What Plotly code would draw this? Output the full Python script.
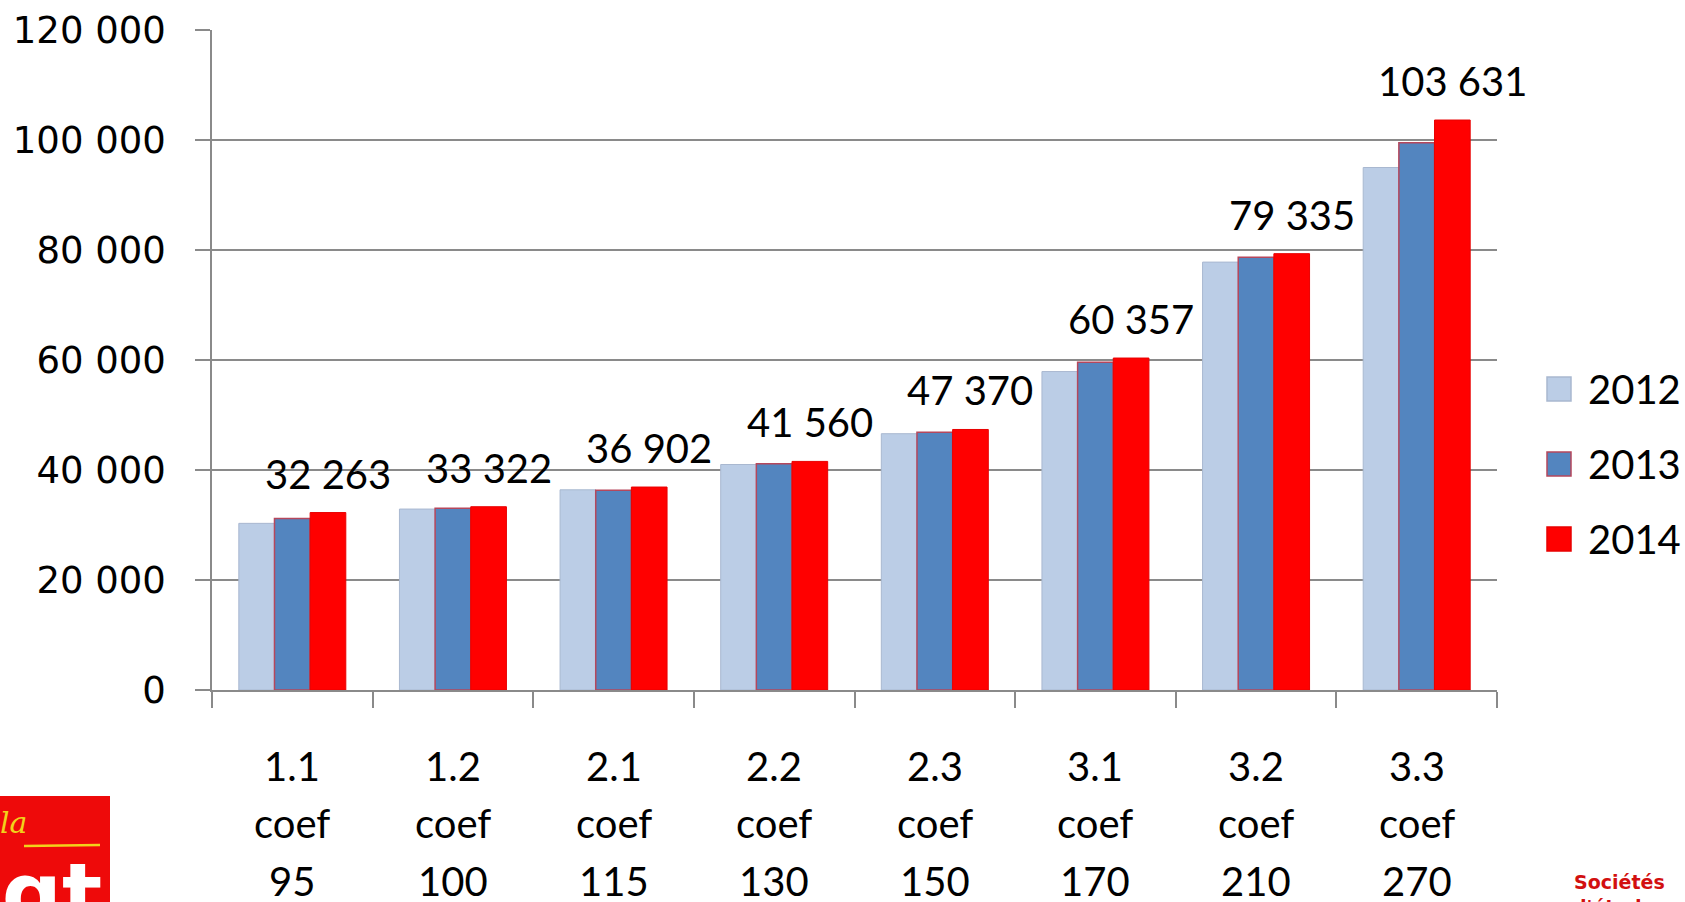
import plotly.graph_objects as go

# ---------------- data ----------------
grades = ["1.1", "1.2", "2.1", "2.2", "2.3", "3.1", "3.2", "3.3"]
coefs = ["95", "100", "115", "130", "150", "170", "210", "270"]
years = ["2012", "2013", "2014"]
v2012 = [30300, 32900, 36400, 41000, 46600, 57900, 77800, 95000]
v2013 = [31200, 33050, 36300, 41150, 46850, 59600, 78700, 99500]
v2014 = [32263, 33322, 36902, 41560, 47370, 60357, 79335, 103631]
y_ticks = [0, 20000, 40000, 60000, 80000, 100000, 120000]

series = [v2012, v2013, v2014]
fills = ["#BBCDE6", "#5385BF", "#FF0000"]
lines = ["#A9B8D0", "#B5475C", "#E80000"]
line_w = [1, 1.5, 1]

# ---------------- geometry helpers (pixel -> paper) ----------------
W, H = 1685, 902
L, R, T, B = 212, 1497, 30, 690


def px_x(px):
    return (px - L) / (R - L)


def px_y(py):
    return (B - py) / (B - T)


LABEL_FONT = "Lato"
AXIS_FONT = "DejaVu Sans"
GREY = "#8A8A8A"

fig = go.Figure()
for name, vals, fc, lc, lw in zip(years, series, fills, lines, line_w):
    fig.add_trace(go.Bar(
        x=grades, y=vals, name=name,
        marker=dict(color=fc, line=dict(color=lc, width=lw)),
        showlegend=False,
        hovertemplate="%{x} " + name + ": %{y:,}<extra></extra>",
    ))

annotations = []
shapes = []

# value labels above the 2014 bars (x given as category index)
bargap = 0.334
cat_w = (R - L) / len(grades)
bar_w = cat_w * (1 - bargap) / 3
for i, v in enumerate(v2014):
    annotations.append(dict(
        x=i, y=v, xref="x", yref="y", xshift=bar_w, yshift=39,
        text=f"{v:,}".replace(",", " "), showarrow=False,
        xanchor="center", yanchor="middle",
        font=dict(family=LABEL_FONT, size=40, color="#000000"),
    ))

# three-line category labels
for i, (g, c) in enumerate(zip(grades, coefs)):
    for txt, dy in zip([g, "coef", c], [766, 823, 881]):
        annotations.append(dict(
            x=i, y=px_y(dy), xref="x", yref="paper", text=txt,
            showarrow=False, xanchor="center", yanchor="middle",
            font=dict(family=LABEL_FONT, size=40, color="#000000"),
        ))

# legend (drawn manually so the swatches match the reference size)
for name, fc, lc, lw, cy in zip(years, fills, lines, line_w, [389, 464, 539]):
    shapes.append(dict(
        type="rect", xref="paper", yref="paper",
        x0=px_x(1547), x1=px_x(1571), y0=px_y(cy + 12), y1=px_y(cy - 12),
        fillcolor=fc, line=dict(color=lc, width=max(lw, 1.5)),
    ))
    annotations.append(dict(
        x=px_x(1586), y=px_y(cy), xref="paper", yref="paper", text=name,
        showarrow=False, xanchor="left", yanchor="middle",
        font=dict(family=LABEL_FONT, size=40, color="#000000"),
    ))

# logo (bottom left)
shapes.append(dict(
    type="rect", xref="paper", yref="paper",
    x0=px_x(-5), x1=px_x(110), y0=px_y(910), y1=px_y(796),
    fillcolor="#EE0A0A", line=dict(width=0), layer="above",
))
shapes.append(dict(
    type="line", xref="paper", yref="paper",
    x0=px_x(24), x1=px_x(100), y0=px_y(846), y1=px_y(845),
    line=dict(color="#F2D21B", width=2.5), layer="above",
))
annotations.append(dict(
    x=px_x(104), y=px_y(843), xref="paper", yref="paper",
    text="<b>cgt</b>", showarrow=False, xanchor="right", yanchor="top",
    font=dict(family="DejaVu Sans", size=84, color="#FFFFFF"),
))
annotations.append(dict(
    x=px_x(-2), y=px_y(822), xref="paper", yref="paper",
    text="<i>la</i>", showarrow=False, xanchor="left", yanchor="middle",
    font=dict(family="DejaVu Serif", size=30, color="#F2D21B"),
))

# bottom-right caption
annotations.append(dict(
    x=px_x(1619), y=px_y(869), xref="paper", yref="paper",
    text="<b>Sociétés<br>d'études</b>", showarrow=False,
    xanchor="center", yanchor="top", align="center",
    font=dict(family="DejaVu Sans", size=19, color="#D21010"),
))

fig.update_layout(
    width=W, height=H,
    margin=dict(l=L, r=W - R, t=T, b=H - B, autoexpand=False),
    paper_bgcolor="#FFFFFF", plot_bgcolor="#FFFFFF",
    barmode="group", bargap=bargap, bargroupgap=0,
    separators=", ",
    annotations=annotations, shapes=shapes,
    showlegend=False,
)
fig.update_xaxes(
    type="category", categoryorder="array", categoryarray=grades,
    range=[-0.5, len(grades) - 0.5], autorange=False,
    showticklabels=False, showgrid=False,
    showline=True, linecolor=GREY, linewidth=1.5,
    ticks="outside", tickson="boundaries", ticklen=16, tickcolor=GREY, tickwidth=1.5,
)
fig.update_yaxes(
    range=[0, 120000], autorange=False, tickvals=y_ticks, tickformat=",d",
    showgrid=True, gridcolor=GREY, gridwidth=1.5,
    showline=True, linecolor=GREY, linewidth=1.5,
    ticks="outside", ticklen=15, tickcolor=GREY, tickwidth=1.5,
    ticklabelstandoff=22, zeroline=False,
    tickfont=dict(family=AXIS_FONT, size=37, color="#000000"),
)

fig.write_html(
    "out.html",
    config={"displayModeBar": False},
    post_script="document.body.style.margin='0';document.body.style.overflow='hidden';",
)
